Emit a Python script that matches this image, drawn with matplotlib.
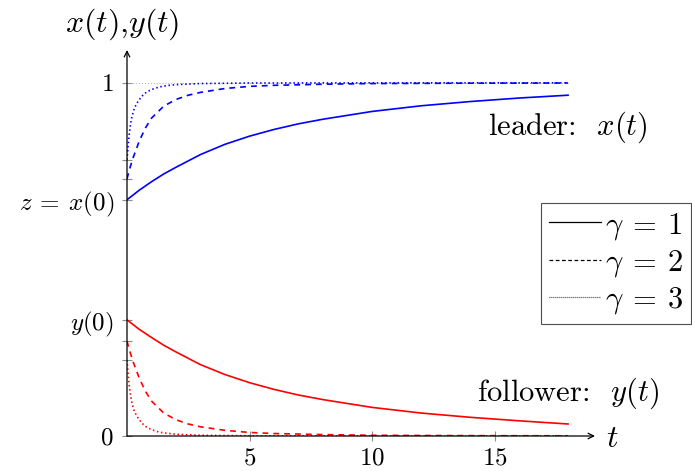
import matplotlib
matplotlib.use("Agg")
import matplotlib.pyplot as plt

plt.rcParams["mathtext.fontset"] = "cm"
plt.rcParams["font.family"] = "cmr10"
plt.rcParams["axes.formatter.use_mathtext"] = True

# values
t1 = [0, 0.5, 1, 1.5, 2, 3, 4, 5, 6, 7, 8, 9, 10, 12, 14, 16, 18]
lead1 = [0.669, 0.696, 0.720, 0.742, 0.761, 0.797, 0.826, 0.849, 0.868, 0.884,
         0.897, 0.908, 0.919, 0.935, 0.947, 0.957, 0.965]
foll1 = [0.329, 0.302, 0.279, 0.257, 0.238, 0.202, 0.174, 0.151, 0.132, 0.116,
         0.103, 0.092, 0.081, 0.065, 0.053, 0.043, 0.034]

t2 = [0, 0.1, 0.25, 0.5, 0.75, 1, 1.5, 2, 2.5, 3, 4, 5, 6, 8, 10, 14, 18]
lead2 = [0.728, 0.755, 0.788, 0.835, 0.872, 0.900, 0.934, 0.953, 0.965, 0.973,
         0.984, 0.990, 0.993, 0.996, 0.998, 0.999, 0.9995]
foll2 = [0.269, 0.243, 0.210, 0.164, 0.127, 0.099, 0.065, 0.046, 0.034, 0.026,
         0.016, 0.010, 0.007, 0.004, 0.002, 0.001, 0.0005]

t3 = [0, 0.05, 0.1, 0.15, 0.2, 0.3, 0.4, 0.6, 0.8, 1, 1.3, 1.6, 2, 3, 5, 10, 18]
lead3 = [0.782, 0.825, 0.860, 0.885, 0.904, 0.928, 0.942, 0.962, 0.974, 0.981,
         0.988, 0.992, 0.995, 0.998, 0.9995, 1.0, 1.0]
foll3 = [0.215, 0.172, 0.138, 0.113, 0.094, 0.070, 0.056, 0.037, 0.025, 0.018,
         0.011, 0.008, 0.005, 0.002, 0.0005, 0.0, 0.0]

z0 = 0.669
y0 = 0.329
gamma_labels = [r"$\gamma\:=\:1$", r"$\gamma\:=\:2$", r"$\gamma\:=\:3$"]

fig = plt.figure(figsize=(6.92, 4.71), dpi=100)
ax = fig.add_axes([127 / 692, 35 / 471, 468 / 692, 386 / 471])
ax.set_xlim(0, 19.1)
ax.set_ylim(0, 1.093)
for s in ["top", "right", "left", "bottom"]:
    ax.spines[s].set_visible(False)

# axes with arrows
ax.annotate("", xy=(1, 0), xytext=(0, 0), xycoords="axes fraction",
            arrowprops=dict(arrowstyle="->", color="black", lw=0.9, shrinkA=0, shrinkB=0))
ax.annotate("", xy=(0, 1), xytext=(0, 0), xycoords="axes fraction",
            arrowprops=dict(arrowstyle="->", color="black", lw=0.9, shrinkA=0, shrinkB=0))

# asymptote at 1
ax.plot([0, 18], [1, 1], color="0.65", lw=0.7, linestyle=(0, (1, 2)))

dash = (0, (3.5, 3))
dot = (0, (0.9, 1.6))
ax.plot(t1, lead1, color="blue", lw=1.2)
ax.plot(t2, lead2, color="blue", lw=1.2, linestyle=dash)
ax.plot(t3, lead3, color="blue", lw=1.2, linestyle=dot)
ax.plot(t1, foll1, color="red", lw=1.2)
ax.plot(t2, foll2, color="red", lw=1.2, linestyle=dash)
ax.plot(t3, foll3, color="red", lw=1.2, linestyle=dot)

# ticks
yt = [0, foll3[0], foll2[0], y0, z0, lead2[0], lead3[0], 1]
ylab = ["$0$", "", "", "$y(0)$", r"$z\:=\:x(0)$", "", "", "$1$"]
ax.set_yticks(yt)
ax.set_yticklabels(ylab)
ax.set_xticks([5, 10, 15])
ax.set_xticklabels(["$5$", "$10$", "$15$"])
ax.tick_params(axis="both", direction="inout", length=7, width=0.8, color="0.55",
               labelsize=18)
ax.tick_params(axis="y", pad=6)
ax.tick_params(axis="x", pad=5)

ax.text(18, 0.875, r"leader:  $x(t)$", fontsize=22, ha="center",
        va="center", clip_on=False)
ax.text(18, 0.12, r"follower:  $y(t)$", fontsize=22, ha="center",
        va="center", clip_on=False)
ax.text(-0.2, 1.165, r"$x(t)$,$y(t)$", fontsize=23, ha="center", va="center",
        clip_on=False)
ax.text(19.8, -0.01, r"$t$", fontsize=23, ha="center", va="center", clip_on=False)

# legend
h1, = ax.plot([], [], color="black", lw=0.9)
h2, = ax.plot([], [], color="black", lw=0.9, linestyle=(0, (3, 2)))
h3, = ax.plot([], [], color="black", lw=0.9, linestyle=(0, (0.6, 1.0)))
leg = ax.legend([h1, h2, h3], gamma_labels, loc="upper right",
                bbox_to_anchor=(691 / 692, (471 - 203) / 471),
                bbox_transform=fig.transFigure, fontsize=22, frameon=True,
                fancybox=False, framealpha=1, edgecolor="0.3", handlelength=1.7,
                handletextpad=0.15, borderpad=0.25, labelspacing=0.2,
                borderaxespad=0)
leg.get_frame().set_linewidth(0.8)

fig.savefig("out.png", dpi=100)
